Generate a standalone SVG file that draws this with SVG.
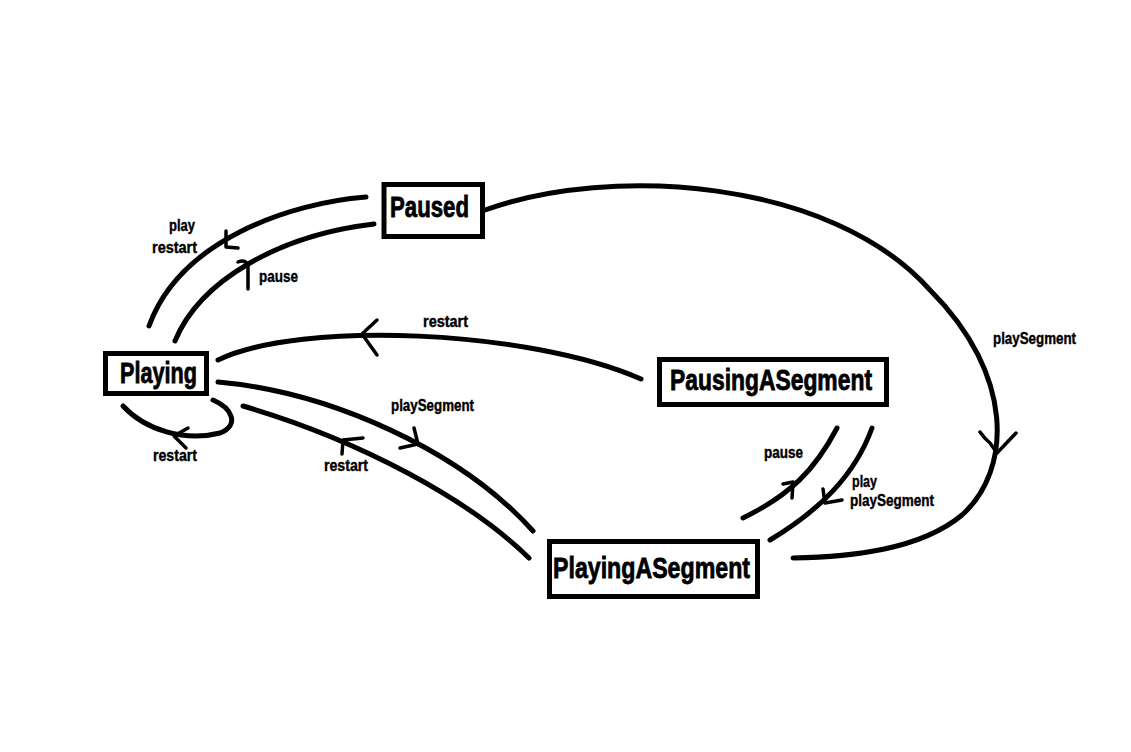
<svg xmlns="http://www.w3.org/2000/svg" width="1131" height="752" viewBox="0 0 1131 752">
  <style>
    .box { fill: #ffffff; stroke: #000000; stroke-width: 5; }
    .name { font-family: "Liberation Sans Narrow", "Liberation Sans", Arial, sans-serif; font-weight: bold; font-size: 29px; fill: #000000; stroke: #000000; stroke-width: 0.8; }
    .edge { fill: none; stroke: #000000; stroke-width: 5; stroke-linecap: round; stroke-linejoin: round; }
    .head { fill: none; stroke: #000000; stroke-width: 3.5; stroke-linecap: round; stroke-linejoin: round; }
    .lbl { font-family: "Liberation Sans Narrow", "Liberation Sans", Arial, sans-serif; font-weight: bold; font-size: 16px; fill: #000000; stroke: #000000; stroke-width: 0.4; }
  </style>
  <rect width="1131" height="752" fill="#ffffff"/>

  <g id="connectors">
    <g id="paused-to-playing">
      <path class="edge" d="M366,197 C 290,203 180,240 149,326"/>
      <path class="head" d="M226,231 L226,247 L238,248"/>
      <text class="lbl" x="169" y="231" textLength="26" lengthAdjust="spacingAndGlyphs">play</text>
      <text class="lbl" x="152" y="253" textLength="45" lengthAdjust="spacingAndGlyphs">restart</text>
    </g>
    <g id="playing-to-paused">
      <path class="edge" d="M175,341 C 200,280 280,235 374,224"/>
      <path class="head" d="M238,262 Q245,259 248,265 L248,289"/>
      <text class="lbl" x="259" y="282" textLength="39" lengthAdjust="spacingAndGlyphs">pause</text>
    </g>
    <g id="paused-to-playingasegment">
      <path class="edge" d="M485,210 C 610,165 830,178 930,290 C 1015,375 1012,470 962,515 C 920,550 850,557 793,558"/>
      <path class="head" d="M980,432 Q984,438 990,443 L997,453 L1016,433"/>
      <text class="lbl" x="993" y="344" textLength="83" lengthAdjust="spacingAndGlyphs">playSegment</text>
    </g>
    <g id="pausingasegment-to-playing">
      <path class="edge" d="M641,379 C 530,330 300,320 218,360"/>
      <path class="head" d="M377,320 L362,334 L377,355"/>
      <text class="lbl" x="423" y="327" textLength="45" lengthAdjust="spacingAndGlyphs">restart</text>
    </g>
    <g id="playing-to-playingasegment">
      <path class="edge" d="M218,382 C 330,392 460,450 533,531"/>
      <path class="head" d="M414,428 L418,444 L400,448"/>
      <text class="lbl" x="391" y="411" textLength="83" lengthAdjust="spacingAndGlyphs">playSegment</text>
    </g>
    <g id="playingasegment-to-playing">
      <path class="edge" d="M529,558 C 470,500 360,440 243,406"/>
      <path class="head" d="M363,438 L343,440 L342,454"/>
      <text class="lbl" x="324" y="471" textLength="44" lengthAdjust="spacingAndGlyphs">restart</text>
    </g>
    <g id="playing-self">
      <path class="edge" d="M123,406 C 145,430 185,442 220,433 C 240,425 232,408 213,400"/>
      <path class="head" d="M188,428 L174,436 L186,448"/>
      <text class="lbl" x="153" y="461" textLength="44" lengthAdjust="spacingAndGlyphs">restart</text>
    </g>
    <g id="playingasegment-to-pausingasegment">
      <path class="edge" d="M743,518 C 790,495 815,470 837,428"/>
      <path class="head" d="M783,484 L793,482 L792,498"/>
      <text class="lbl" x="764" y="458" textLength="39" lengthAdjust="spacingAndGlyphs">pause</text>
    </g>
    <g id="pausingasegment-to-playingasegment">
      <path class="edge" d="M872,428 C 855,475 820,510 770,540"/>
      <path class="head" d="M823,489 L825,503 L842,500"/>
      <text class="lbl" x="852" y="487" textLength="25" lengthAdjust="spacingAndGlyphs">play</text>
      <text class="lbl" x="850" y="506" textLength="84" lengthAdjust="spacingAndGlyphs">playSegment</text>
    </g>
  </g>

  <g id="node-paused">
    <rect class="box" x="384" y="184.5" width="98.5" height="52"/>
    <text class="name" x="390" y="217" textLength="79" lengthAdjust="spacingAndGlyphs">Paused</text>
  </g>
  <g id="node-playing">
    <rect class="box" x="105.5" y="353.5" width="101" height="40"/>
    <text class="name" x="120" y="383" textLength="77" lengthAdjust="spacingAndGlyphs">Playing</text>
  </g>
  <g id="node-pausingasegment">
    <rect class="box" x="659.5" y="359.5" width="227" height="45"/>
    <text class="name" x="670" y="390" textLength="202" lengthAdjust="spacingAndGlyphs">PausingASegment</text>
  </g>
  <g id="node-playingasegment">
    <rect class="box" x="549.5" y="541.5" width="208" height="55"/>
    <text class="name" x="553" y="578" textLength="197" lengthAdjust="spacingAndGlyphs">PlayingASegment</text>
  </g>
</svg>
